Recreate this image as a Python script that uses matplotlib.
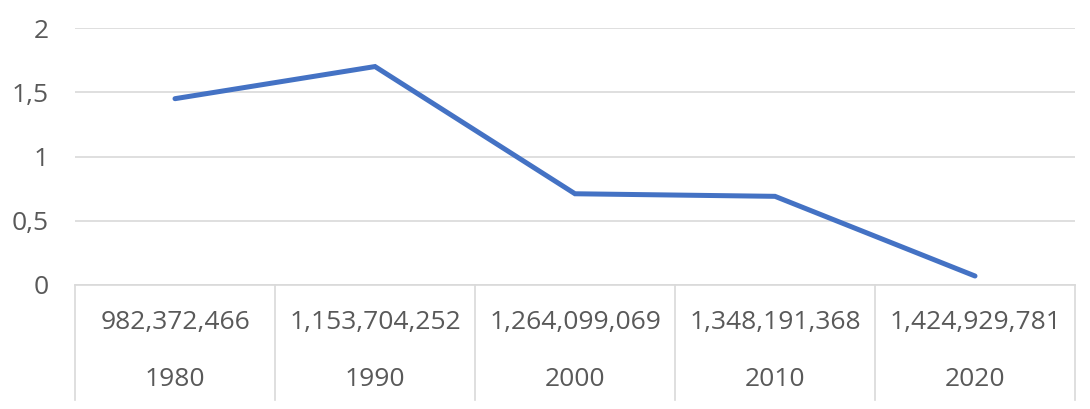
import matplotlib.pyplot as plt
import matplotlib.transforms as mtransforms
from matplotlib.ticker import FuncFormatter, MultipleLocator

# Data
years = ['1980', '1990', '2000', '2010', '2020']
population = ['982,372,466', '1,153,704,252', '1,264,099,069', '1,348,191,368', '1,424,929,781']
growth = [1.45, 1.70, 0.71, 0.69, 0.07]

plt.rcParams['font.family'] = ['Open Sans', 'DejaVu Sans']
text_col = '#595959'
grid_col = '#d9d9d9'
fs = 19

W, H = 1090, 409
fig = plt.figure(figsize=(W / 100, H / 100), dpi=100)
# plot area: x 75..1075 px, y 28..285 px (from top)
ax = fig.add_axes([75 / W, 1 - 285 / H, 1000 / W, (285 - 28) / H])

x = list(range(len(years)))
ax.plot(x, growth, color='#4472C4', linewidth=3.6, solid_capstyle='round', solid_joinstyle='miter')

ax.set_xlim(-0.5, len(years) - 0.5)
ax.set_ylim(0, 2)
ax.yaxis.set_major_locator(MultipleLocator(0.5))
ax.yaxis.set_major_formatter(FuncFormatter(lambda v, p: f'{v:g}'.replace('.', ',')))
ax.tick_params(axis='y', length=0, pad=19, labelsize=fs, labelcolor=text_col)
ax.set_xticks([])

ax.grid(True, axis='y', color=grid_col, linewidth=1.2)
ax.set_axisbelow(True)
for s in ['top', 'right', 'left']:
    ax.spines[s].set_visible(False)
ax.spines['bottom'].set_color(grid_col)
ax.spines['bottom'].set_linewidth(1.2)

# Two-level category axis (Excel style)
span = 285 - 28
trans = mtransforms.blended_transform_factory(ax.transData, ax.transAxes)
y_low = -(400 - 285) / span
for b in [i - 0.5 for i in range(len(years) + 1)]:
    ax.plot([b, b], [0, y_low], transform=trans, color=grid_col, linewidth=1.2, clip_on=False)

y_pop = -(322 - 285) / span
y_year = -(380 - 285) / span
for i in x:
    ax.text(i, y_pop, population[i], transform=trans, ha='center', va='center',
            fontsize=fs, color=text_col)
    ax.text(i, y_year, years[i], transform=trans, ha='center', va='center',
            fontsize=fs, color=text_col)

fig.savefig('out.png', dpi=100)
